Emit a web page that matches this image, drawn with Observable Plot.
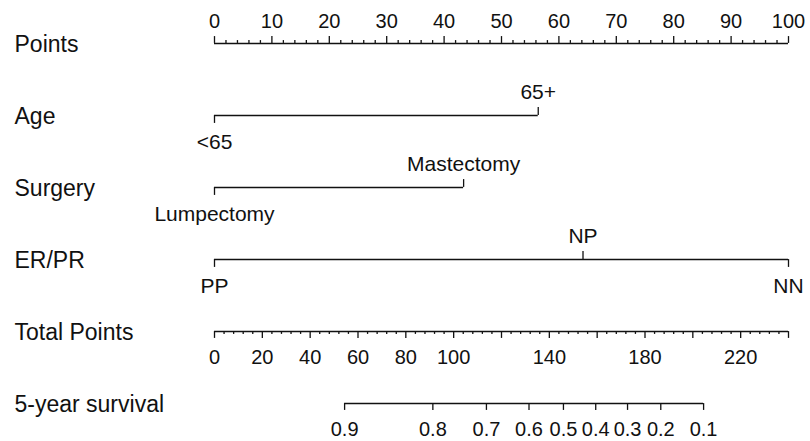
<!DOCTYPE html>
<html>
<head>
<meta charset="utf-8">
<script src="https://cdn.jsdelivr.net/npm/d3@7"></script>
<script src="https://cdn.jsdelivr.net/npm/@observablehq/plot@0.6"></script>
<style>
  body { margin: 0; background: #fff; }
  svg { font-family: "Liberation Sans", Arial, sans-serif; }
</style>
</head>
<body>
<div id="chart"></div>
<script>
// ---- data ----
const rows = ["Points", "Age", "Surgery", "ER/PR", "Total Points", "5-year survival"];

const pointsLabels = [0, 10, 20, 30, 40, 50, 60, 70, 80, 90, 100];
const pointsMinorStep = 2;

const ageLevels = ["<65", "65+"];
const agePoints = [0, 56.4];

const surgeryLevels = ["Lumpectomy", "Mastectomy"];
const surgeryPoints = [0, 43.4];

const erprLevels = ["PP", "NP", "NN"];
const erprPoints = [0, 64.2, 100];

const maxTotalPoints = 240;
const totalPointsMajor = [0, 20, 40, 60, 80, 100, 120, 140, 160, 180, 200, 220, 240];
const totalPointsLabels = [0, 20, 40, 60, 80, 100, 140, 180, 220];
const totalPointsMinorStep = 4;

const survivalLabels = [0.9, 0.8, 0.7, 0.6, 0.5, 0.4, 0.3, 0.2, 0.1];
const survivalTotalPoints = [54.4, 91.3, 113.7, 131.5, 145.9, 159.4, 172.7, 186.6, 204.5];

// ---- layout / style ----
const W = 810, H = 441, mTop = 6, mBottom = 2, mLeft = 214, mRight = 22;
const half = (H - mTop - mBottom) / rows.length / 2;
const ink = "#111";
const labelSize = 23, tickFont = 20, levelFont = 21;
const tp = v => v * 100 / maxTotalPoints;

// variable rows
const variables = [
  {row: "Age", levels: ageLevels, pts: agePoints},
  {row: "Surgery", levels: surgeryLevels, pts: surgeryPoints},
  {row: "ER/PR", levels: erprLevels, pts: erprPoints}
];
const levelData = variables.flatMap(v => v.levels.map((l, i) => ({row: v.row, label: l, x: v.pts[i], above: i % 2 === 1})));

const lines = [
  {row: "Points", x1: 0, x2: 100},
  ...variables.map(v => ({row: v.row, x1: d3.min(v.pts), x2: d3.max(v.pts)})),
  {row: "Total Points", x1: 0, x2: tp(maxTotalPoints)},
  {row: "5-year survival", x1: tp(d3.min(survivalTotalPoints)), x2: tp(d3.max(survivalTotalPoints))}
];

const pointsMinor = d3.range(0, 100 + 1e-9, pointsMinorStep).filter(v => !pointsLabels.includes(v));
const totalMinor = d3.range(0, maxTotalPoints + 1e-9, totalPointsMinorStep).filter(v => !totalPointsMajor.includes(v));
const survival = survivalLabels.map((s, i) => ({s, x: tp(survivalTotalPoints[i])}));

const up = len => ({insetTop: half - len, insetBottom: half});
const down = len => ({insetTop: half, insetBottom: half - len});
const common = {stroke: ink, strokeWidth: 1.3};

const chart = Plot.plot({
  width: W, height: H,
  marginTop: mTop, marginBottom: mBottom, marginLeft: mLeft, marginRight: mRight,
  x: {domain: [0, 100], axis: null},
  y: {type: "band", domain: rows, padding: 0, axis: null},
  marks: [
    // row titles
    Plot.text(rows, {y: d => d, text: d => d, frameAnchor: "left", textAnchor: "start", dx: -200, dy: 1, fontSize: labelSize, fill: ink}),
    // axis lines
    Plot.ruleY(lines, {y: "row", x1: "x1", x2: "x2", ...common}),
    // Points scale
    Plot.tickX(pointsLabels, {x: d => d, y: () => "Points", ...up(7), ...common}),
    Plot.tickX(pointsMinor, {x: d => d, y: () => "Points", ...up(3), ...common}),
    Plot.text(pointsLabels, {x: d => d, y: () => "Points", text: d => String(d), dy: -22, fontSize: tickFont, fill: ink}),
    // variables
    Plot.tickX(levelData.filter(d => d.above), {x: "x", y: "row", ...up(8), ...common}),
    Plot.tickX(levelData.filter(d => !d.above), {x: "x", y: "row", ...down(8), ...common}),
    Plot.text(levelData.filter(d => d.above), {x: "x", y: "row", text: "label", dy: -23, fontSize: levelFont, fill: ink}),
    Plot.text(levelData.filter(d => !d.above), {x: "x", y: "row", text: "label", dy: 27, fontSize: levelFont, fill: ink}),
    // Total points
    Plot.tickX(totalPointsMajor, {x: d => tp(d), y: () => "Total Points", ...down(7), ...common}),
    Plot.tickX(totalMinor, {x: d => tp(d), y: () => "Total Points", ...down(3), ...common}),
    Plot.text(totalPointsLabels, {x: d => tp(d), y: () => "Total Points", text: d => String(d), dy: 26, fontSize: tickFont, fill: ink}),
    // 5-year survival
    Plot.tickX(survival, {x: "x", y: () => "5-year survival", ...down(7), ...common}),
    Plot.text(survival, {x: "x", y: () => "5-year survival", text: d => d3.format(".1f")(d.s), dy: 26, fontSize: tickFont, fill: ink})
  ]
});
document.getElementById("chart").append(chart);
</script>
</body>
</html>
